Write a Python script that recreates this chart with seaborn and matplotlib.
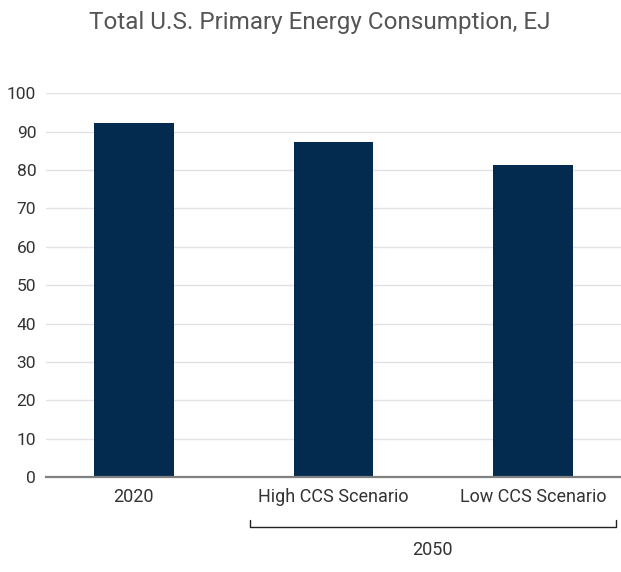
import pandas as pd
import matplotlib.pyplot as plt
import seaborn as sns
from matplotlib.transforms import blended_transform_factory

categories = ["2020", "High CCS Scenario", "Low CCS Scenario"]
values = [92.2, 87.2, 81.4]
group_label = "2050"
title = "Total U.S. Primary Energy Consumption, EJ"

sns.set_style("white")
plt.rcParams["font.family"] = ["Roboto", "DejaVu Sans"]

df = pd.DataFrame({"category": categories, "value": values})

fig = plt.figure(figsize=(6.21, 5.72), dpi=100)
ax = fig.add_axes([0.074, 0.166, 0.926, 0.671])

sns.barplot(data=df, x="category", y="value", color="#022b4f", width=0.4,
            saturation=1, linewidth=0, ax=ax, zorder=3)

ax.set_ylim(0, 100)
ax.set_xlim(-0.44, 2.44)
ax.set_yticks(range(0, 101, 10))
ax.yaxis.grid(True, color="#e2e2e2", linewidth=1, zorder=0)
ax.set_axisbelow(True)
for s in ["top", "right", "left"]:
    ax.spines[s].set_visible(False)
ax.spines["bottom"].set_color("#808080")
ax.spines["bottom"].set_linewidth(1.6)
ax.spines["bottom"].set_zorder(4)
ax.tick_params(axis="both", length=0, labelcolor="#333333")
ax.tick_params(axis="x", pad=8, labelsize=13)
ax.tick_params(axis="y", pad=7, labelsize=12.5)
ax.set_xlabel("")
ax.set_ylabel("")

# bracket for the 2050 group
tr = blended_transform_factory(ax.transData, ax.transAxes)
y_br = -0.131
y_tk = -0.112
x0, x1 = 0.58, 2.415
ax.plot([x0, x0, x1, x1], [y_tk, y_br, y_br, y_tk], color="#222222",
        linewidth=1, transform=tr, clip_on=False)
ax.text((x0 + x1) / 2, -0.19, group_label, transform=tr, ha="center",
        va="center", fontsize=13, color="#333333")

fig.text(0.515, 0.96, title, ha="center", va="center", fontsize=17.5,
         color="#555555")

fig.savefig("out.png", dpi=100)
